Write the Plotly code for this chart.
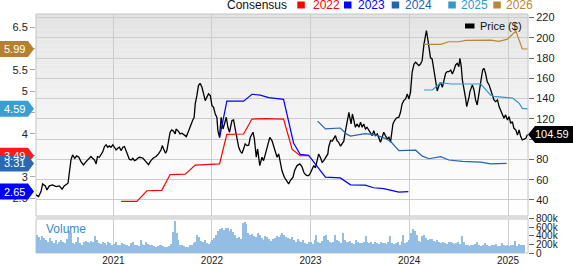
import plotly.graph_objects as go
import pandas as pd

# ---------------- data ----------------
price_dates = [
 "2020-03-20","2020-03-30","2020-04-08","2020-04-14","2020-04-24","2020-04-30","2020-05-09","2020-05-21",
 "2020-06-03","2020-06-15","2020-06-25","2020-07-03","2020-07-17","2020-07-22","2020-07-28","2020-08-03",
 "2020-08-11","2020-08-18","2020-08-26","2020-09-03","2020-09-12","2020-09-22","2020-10-02","2020-10-10",
 "2020-10-16","2020-10-23","2020-10-29","2020-11-03","2020-11-10","2020-11-16","2020-11-23","2020-11-29",
 "2020-12-05","2020-12-11","2020-12-17","2020-12-23","2020-12-30","2021-01-05","2021-01-11","2021-01-17",
 "2021-01-23","2021-01-30","2021-02-05","2021-02-11","2021-02-17","2021-02-23","2021-03-01","2021-03-08",
 "2021-03-14","2021-03-20","2021-03-26","2021-04-01","2021-04-07","2021-04-20","2021-04-29","2021-05-11",
 "2021-05-20","2021-05-29","2021-06-08","2021-06-17","2021-06-26","2021-07-01","2021-07-06","2021-07-13",
 "2021-07-18","2021-07-24","2021-07-30","2021-08-05","2021-08-12","2021-08-18","2021-08-21","2021-08-30",
 "2021-09-05","2021-09-12","2021-09-18","2021-09-28","2021-10-06","2021-10-15","2021-10-22","2021-10-27",
 "2021-10-31","2021-11-06","2021-11-12","2021-11-18","2021-11-25","2021-12-01","2021-12-07","2021-12-13",
 "2021-12-19","2021-12-26","2022-01-01","2022-01-07","2022-01-13","2022-01-19","2022-01-23","2022-01-29",
 "2022-02-04","2022-02-11","2022-02-17","2022-02-23","2022-03-01","2022-03-07","2022-03-16","2022-03-22",
 "2022-03-28","2022-04-03","2022-04-10","2022-04-16","2022-04-22","2022-04-28","2022-05-04","2022-05-11",
 "2022-05-17","2022-05-23","2022-05-29","2022-06-02","2022-06-07","2022-06-14","2022-06-19","2022-06-27",
 "2022-07-05","2022-07-11","2022-07-18","2022-07-26","2022-08-03","2022-08-11","2022-08-17","2022-08-24",
 "2022-08-30","2022-09-05","2022-09-11","2022-09-17","2022-09-26","2022-10-03","2022-10-12","2022-10-18",
 "2022-10-28","2022-11-03","2022-11-12","2022-11-22","2022-11-30","2022-12-07","2022-12-13","2022-12-19",
 "2022-12-25","2022-12-31","2023-01-07","2023-01-13","2023-01-19","2023-01-25","2023-01-31","2023-02-06",
 "2023-02-13","2023-02-19","2023-02-25","2023-03-06","2023-03-09","2023-03-16","2023-03-22","2023-03-28",
 "2023-04-03","2023-04-09","2023-04-15","2023-04-22","2023-04-28","2023-05-04","2023-05-10","2023-05-16",
 "2023-05-23","2023-05-26","2023-05-31","2023-06-05","2023-06-10","2023-06-16","2023-06-22","2023-06-29",
 "2023-07-05","2023-07-11","2023-07-17","2023-07-23","2023-07-29","2023-08-05","2023-08-11","2023-08-17",
 "2023-08-23","2023-08-29","2023-09-05","2023-09-11","2023-09-17","2023-09-23","2023-09-29","2023-10-05",
 "2023-10-12","2023-10-18","2023-10-24","2023-10-28","2023-11-02","2023-11-08","2023-11-15","2023-11-24",
 "2023-11-30","2023-12-06","2023-12-12","2023-12-19","2023-12-25","2023-12-31","2024-01-06","2024-01-12",
 "2024-01-19","2024-01-25","2024-01-31","2024-02-06","2024-02-12","2024-02-18","2024-02-25","2024-03-02",
 "2024-03-05","2024-03-10","2024-03-14","2024-03-20","2024-03-26","2024-04-02","2024-04-08","2024-04-14",
 "2024-04-20","2024-04-26","2024-05-03","2024-05-09","2024-05-15","2024-05-21","2024-05-27","2024-06-03",
 "2024-06-09","2024-06-15","2024-06-21","2024-06-27","2024-07-03","2024-07-07","2024-07-12","2024-07-16",
 "2024-07-22","2024-07-28","2024-08-01","2024-08-06","2024-08-10","2024-08-13","2024-08-18","2024-08-22",
 "2024-08-28","2024-09-03","2024-09-09","2024-09-14","2024-09-19","2024-09-24","2024-09-29","2024-10-04",
 "2024-10-10","2024-10-16","2024-10-23","2024-10-29","2024-11-04","2024-11-10","2024-11-16","2024-11-23",
 "2024-11-29","2024-12-05","2024-12-11","2024-12-17","2024-12-23","2024-12-30","2025-01-05","2025-01-11",
 "2025-01-17","2025-01-23","2025-01-30","2025-02-05","2025-02-11","2025-02-17","2025-02-23","2025-03-01",
 "2025-03-08","2025-03-14"]
price_vals = [
 45.0,43.3,48.3,55.8,53.9,49.9,53.9,54.8,
 53.2,53.9,50.6,53.9,56.5,69.6,79.5,84.4,
 81.1,83.4,82.1,77.8,74.6,77.8,81.1,82.8,
 81.1,79.5,75.5,82.8,82.1,84.4,87.7,92.6,
 94.3,92.0,93.3,92.0,94.3,92.0,89.3,91.0,
 92.0,88.7,92.0,92.6,87.7,82.8,80.1,79.5,
 81.1,78.8,79.5,81.1,82.1,81.4,78.8,74.9,
 78.8,81.4,82.8,85.4,89.3,93.6,90.3,86.0,
 88.7,98.5,106.8,109.1,107.7,105.1,110.0,107.7,
 105.1,105.8,104.5,102.5,107.7,115.0,118.9,121.6,
 134.7,142.9,152.8,155.1,151.1,144.6,138.0,141.3,
 144.6,142.9,133.1,131.4,124.8,121.6,108.4,101.8,
 121.6,110.0,115.0,121.6,111.7,106.8,118.3,118.9,
 110.0,101.8,91.9,88.0,86.0,90.3,95.3,93.6,
 94.0,101.8,105.1,106.8,100.2,82.1,90.3,73.9,
 82.1,78.8,85.4,93.6,101.8,98.5,93.6,88.7,
 82.1,85.4,77.2,69.0,62.4,59.1,55.8,59.1,
 62.4,69.0,73.9,75.5,72.9,67.3,65.0,64.0,
 64.0,66.3,70.6,73.9,71.6,78.8,85.4,82.1,
 77.2,78.8,82.1,85.4,92.0,98.5,97.9,100.2,
 103.5,98.5,96.9,93.0,95.0,98.0,108.0,118.3,
 126.5,121.6,115.0,124.8,118.3,111.7,115.0,111.7,
 116.6,111.7,115.0,110.0,111.7,108.4,105.1,103.5,
 108.4,103.5,105.1,101.8,96.9,101.8,106.8,103.5,
 100.2,101.8,96.9,105.1,115.0,118.3,120.9,121.6,
 126.5,134.7,138.0,139.6,144.6,139.6,146.2,165.9,
 174.1,175.8,174.1,172.5,174.1,177.4,193.9,205.4,
 207.0,198.8,190.0,180.2,179.1,168.0,160.0,147.5,
 152.5,156.0,151.2,158.4,165.0,166.6,166.6,168.2,
 164.3,168.2,173.2,174.8,171.5,179.7,171.5,158.4,
 150.2,140.3,132.1,137.0,142.0,146.9,151.8,153.5,
 148.5,138.7,133.7,142.0,150.2,158.4,168.2,169.9,
 164.9,156.7,153.5,148.5,143.6,138.7,137.0,138.7,
 132.1,128.8,123.9,120.6,123.9,118.9,122.2,115.6,
 117.3,110.7,109.0,104.1,109.0,102.5,99.2,99.8,
 100.8,104.59]

eps2022_dates = ["2021-01-30","2021-03-29","2021-05-05","2021-06-29","2021-07-30","2021-09-24","2021-10-31",
                 "2022-01-29","2022-02-25","2022-04-28","2022-05-29","2022-07-18","2022-09-23","2022-10-25",
                 "2022-11-24","2022-12-25"]
eps2022_vals = [2.42,2.42,2.67,2.68,3.05,3.06,3.27,3.30,3.99,4.00,4.35,4.36,4.35,3.64,3.49,3.49]

eps2023_dates = ["2022-01-29","2022-02-25","2022-04-28","2022-05-29","2022-06-29","2022-07-30","2022-09-23",
                 "2022-10-30","2022-11-24","2022-12-25","2023-02-25","2023-04-21","2023-05-29","2023-07-22",
                 "2023-08-23","2023-09-29","2023-11-24","2023-12-29"]
eps2023_vals = [3.91,4.77,4.77,4.93,4.91,4.85,4.81,3.79,3.52,3.50,2.99,2.97,2.81,2.80,2.74,2.72,2.64,2.65]

eps2024_dates = ["2023-01-27","2023-02-25","2023-04-21","2023-05-16","2023-05-29","2023-07-22","2023-08-29",
                 "2023-09-29","2023-10-24","2023-11-24","2024-01-25","2024-02-19","2024-03-14","2024-04-27",
                 "2024-05-27","2024-07-16","2024-09-22","2024-10-29","2024-12-27"]
eps2024_vals = [4.30,4.12,4.14,3.99,3.95,4.01,3.98,3.91,3.83,3.61,3.62,3.48,3.42,3.47,3.39,3.36,3.34,3.30,3.31]

eps2025_dates = ["2024-02-25","2024-03-27","2024-04-27","2024-06-03","2024-09-22","2024-10-29","2024-11-10",
                 "2025-01-18","2025-02-11","2025-02-23","2025-03-14"]
eps2025_vals = [5.03,5.03,5.20,5.17,5.17,4.91,4.88,4.84,4.72,4.60,4.59]

eps2026_dates = ["2024-02-25","2024-04-27","2024-05-27","2024-07-03","2024-07-28","2024-10-29","2024-11-29",
                 "2024-12-30","2025-01-30","2025-02-23","2025-03-14"]
eps2026_vals = [6.10,6.10,6.16,6.16,6.19,6.20,6.17,6.22,6.41,5.99,5.99]

# weekly volume (thousands of shares), first week starting 2020-03-23
vol_start = "2020-03-23"
vol_k = [
 # 2020
 420,380,300,390,360,310,260,350,280,240,300,220,260,310,270,240,330,520,460,240,210,
 250,370,240,200,260,280,270,230,280,250,390,300,230,220,260,240,200,250,230,180,
 # 2021
 220,260,200,180,240,220,190,200,170,230,250,190,180,160,300,220,200,260,210,190,180,160,150,170,200,180,
 160,150,140,160,210,500,760,460,300,200,180,160,150,140,180,200,240,260,420,380,280,250,300,240,210,260,
 # 2022
 300,350,420,520,560,590,540,600,580,520,560,500,420,350,380,320,700,740,680,460,430,440,400,380,460,420,
 350,300,400,380,330,290,320,350,400,380,430,470,420,380,350,320,380,300,260,320,280,250,300,240,210,260,
 # 2023
 250,220,300,430,260,240,280,400,420,300,260,240,250,420,300,280,240,460,300,270,250,280,240,220,300,260,
 240,230,250,400,260,230,250,220,270,240,210,250,230,240,220,260,400,240,210,230,250,200,280,420,240,260,
 # 2024
 300,480,560,520,420,280,260,400,420,360,300,320,340,280,260,300,250,230,260,240,220,250,270,230,210,240,
 260,220,400,250,200,180,170,190,200,220,260,180,170,190,230,180,160,170,190,200,210,170,160,230,180,170,
 # 2025
 200,170,180,190,280,170,210,190,200,180]

year_ticks = ["2021-01-01","2022-01-01","2023-01-01","2024-01-01","2025-01-01"]
year_labels = ["2021","2022","2023","2024","2025"]
price_ticks = [40,60,80,100,120,140,160,180,200,220]
eps_ticks = [2.5,3,3.5,4,4.5,5,5.5,6,6.5]
eps_ticklabels = ["2.5","3","3.5","4","4.5","5","5.5","6","6.5"]
vol_ticks = [0,200000,400000,600000,800000]
vol_ticklabels = ["0","200k","400k","600k","800k"]

last_price = 104.59
consensus = [("2022",3.49,"#ff0000","#ff1a1a"),("2023",2.65,"#0000ff","#0000ff"),
             ("2024",3.31,"#2264b4","#2a68b4"),("2025",4.59,"#3399cc","#3a9fd0"),
             ("2026",5.99,"#b8863b","#b5802f")]

# ---------------- styling ----------------
FONT = "Liberation Sans, Arial, sans-serif"
GRID = "#cccccc"
W, H = 573, 264
ML, MR, MT, MB = 36, 45, 14, 11
PW, PH = W - ML - MR, H - MT - MB
price_dom = [0.155, 1.0]
vol_dom = [0.0, 0.1423]
xr = ["2020-03-20 12:00", "2025-03-16"]

def pxx(px):
    return (px - ML) / PW

def pxy(py):
    return (H - MB - py) / PH

fig = go.Figure()

vol_dates = pd.date_range(vol_start, periods=len(vol_k), freq="7D")
fig.add_trace(go.Bar(x=vol_dates, y=[v * 1000 for v in vol_k], xaxis="x2", yaxis="y3",
                     marker=dict(color="#94bde4", line=dict(width=0)),
                     width=4.2 * 86400000, hoverinfo="skip"))

eps_series = [
    (eps2022_dates, eps2022_vals, "#ff0000"),
    (eps2023_dates, eps2023_vals, "#0000ff"),
    (eps2024_dates, eps2024_vals, "#2264b4"),
    (eps2025_dates, eps2025_vals, "#3399cc"),
    (eps2026_dates, eps2026_vals, "#b8863b"),
]
for d, v, c in eps_series:
    fig.add_trace(go.Scatter(x=d, y=v, xaxis="x", yaxis="y2", mode="lines",
                             line=dict(color=c, width=1.2), hoverinfo="skip"))

fig.add_trace(go.Scatter(x=price_dates, y=price_vals, xaxis="x", yaxis="y", mode="lines",
                         line=dict(color="#000000", width=1.3), hoverinfo="skip"))

shapes = []
# gradient background of the price panel
N = 40
for i in range(N):
    y0 = price_dom[0] + (price_dom[1] - price_dom[0]) * i / N
    y1 = price_dom[0] + (price_dom[1] - price_dom[0]) * (i + 1) / N
    t = (i + 0.5) / N
    g = int(round(255 - (255 - 0xe3) * t ** 1.3))
    shapes.append(dict(type="rect", xref="paper", yref="paper", x0=0, x1=1, y0=y0, y1=y1,
                       fillcolor=f"rgb({g},{g},{g})", line=dict(width=0), layer="below"))
# separator band between panels
shapes.append(dict(type="rect", xref="paper", yref="paper", x0=0, x1=1, y0=vol_dom[1], y1=price_dom[0],
                   fillcolor="#dcdcdc", line=dict(width=0), layer="above"))
# panel borders
shapes.append(dict(type="rect", xref="paper", yref="paper", x0=0, x1=1, y0=price_dom[0], y1=1,
                   line=dict(color="#c4c4c4", width=1), fillcolor="rgba(0,0,0,0)", layer="below"))
shapes.append(dict(type="rect", xref="paper", yref="paper", x0=0, x1=1, y0=0, y1=vol_dom[1],
                   line=dict(color="#c4c4c4", width=1), fillcolor="rgba(0,0,0,0)", layer="below"))

annotations = []
# consensus value tags on the left
for name, val, lc, bc in consensus:
    shapes.append(dict(type="path", xref="paper", yref="y2", xsizemode="pixel", ysizemode="pixel",
                       xanchor=0, yanchor=val,
                       path="M -36,-8 L -8,-8 L -2,0 L -8,8 L -36,8 Z",
                       fillcolor=bc, line=dict(width=0), layer="above"))
    annotations.append(dict(xref="paper", yref="y2", x=0, y=val, xshift=-22, text=f"{val:.2f}",
                            showarrow=False, xanchor="center", yanchor="middle",
                            font=dict(family=FONT, size=11, color="white")))
# last price tag on the right
shapes.append(dict(type="path", xref="paper", yref="y", xsizemode="pixel", ysizemode="pixel",
                   xanchor=1, yanchor=last_price,
                   path="M 0,0 L 7,-8.5 L 46,-8.5 L 46,8.5 L 7,8.5 Z",
                   fillcolor="#000000", line=dict(width=0), layer="above"))
annotations.append(dict(xref="paper", yref="y", x=1, y=last_price, xshift=24, text=f"{last_price:.2f}",
                        showarrow=False, xanchor="center", yanchor="middle",
                        font=dict(family=FONT, size=11, color="white")))

# top legend
annotations.append(dict(xref="paper", yref="paper", x=pxx(225), y=pxy(5), text="Consensus",
                        showarrow=False, xanchor="left", yanchor="middle",
                        font=dict(family=FONT, size=12, color="#111")))
leg_pos = [(297.3, 311.5), (344.0, 356.5), (391.7, 404.0), (448.3, 460.0), (493.3, 505.0)]
for (name, val, lc, bc), (sx, tx) in zip(consensus, leg_pos):
    shapes.append(dict(type="rect", xref="paper", yref="paper", x0=pxx(sx), x1=pxx(sx + 7.5),
                       y0=pxy(8.5), y1=pxy(1.5), fillcolor=lc, line=dict(width=0)))
    annotations.append(dict(xref="paper", yref="paper", x=pxx(tx - 1), y=pxy(5), text=name,
                            showarrow=False, xanchor="left", yanchor="middle",
                            font=dict(family=FONT, size=12, color=lc)))
# price legend inside chart
shapes.append(dict(type="rect", xref="paper", yref="paper", x0=pxx(465), x1=pxx(474.5),
                   y0=pxy(28.5), y1=pxy(23.5), fillcolor="#000", line=dict(width=0)))
annotations.append(dict(xref="paper", yref="paper", x=pxx(478), y=pxy(26.3), text="Price ($)",
                        showarrow=False, xanchor="left", yanchor="middle",
                        font=dict(family=FONT, size=11, color="#111")))
# volume label
annotations.append(dict(xref="paper", yref="paper", x=pxx(44), y=pxy(229), text="Volume",
                        showarrow=False, xanchor="left", yanchor="middle",
                        font=dict(family=FONT, size=12, color="#3a8ad0")))

fig.update_layout(
    width=W, height=H, margin=dict(l=ML, r=MR, t=MT, b=MB, autoexpand=False),
    paper_bgcolor="white", plot_bgcolor="white", showlegend=False, bargap=0,
    font=dict(family=FONT, size=11, color="#222"),
    xaxis=dict(domain=[0, 1], anchor="y", type="date", range=xr, tickvals=year_ticks,
               showticklabels=False, showgrid=True, gridcolor=GRID, gridwidth=1, zeroline=False,
               showline=False, ticks="", automargin=False),
    xaxis2=dict(domain=[0, 1], anchor="y3", type="date", range=xr, tickvals=year_ticks,
                ticktext=year_labels, showgrid=True, gridcolor=GRID, gridwidth=1, zeroline=False,
                showline=False, ticks="", automargin=False,
                tickfont=dict(family=FONT, size=10, color="#222")),
    yaxis=dict(domain=price_dom, anchor="x", side="right", range=[24.2, 223.45], tickvals=price_ticks,
               showgrid=True, gridcolor=GRID, gridwidth=1, zeroline=False, showline=False, automargin=False,
               ticks="outside", ticklen=5, tickcolor="#666", tickfont=dict(family=FONT, size=11, color="#222")),
    yaxis2=dict(overlaying="y", anchor="x", side="left", range=[2.08, 6.81], tickvals=eps_ticks,
                ticktext=eps_ticklabels, showgrid=False, zeroline=False, showline=False, automargin=False,
                ticks="outside", ticklen=5, tickcolor="#aaa", tickfont=dict(family=FONT, size=11, color="#222")),
    yaxis3=dict(domain=vol_dom, anchor="x2", side="right", range=[0, 800000], tickvals=vol_ticks,
                ticktext=vol_ticklabels, showgrid=False, zeroline=False, showline=False, automargin=False,
                ticks="outside", ticklen=5, tickcolor="#666", tickfont=dict(family=FONT, size=10, color="#222")),
    shapes=shapes, annotations=annotations,
)

fig.write_html("out.html")
